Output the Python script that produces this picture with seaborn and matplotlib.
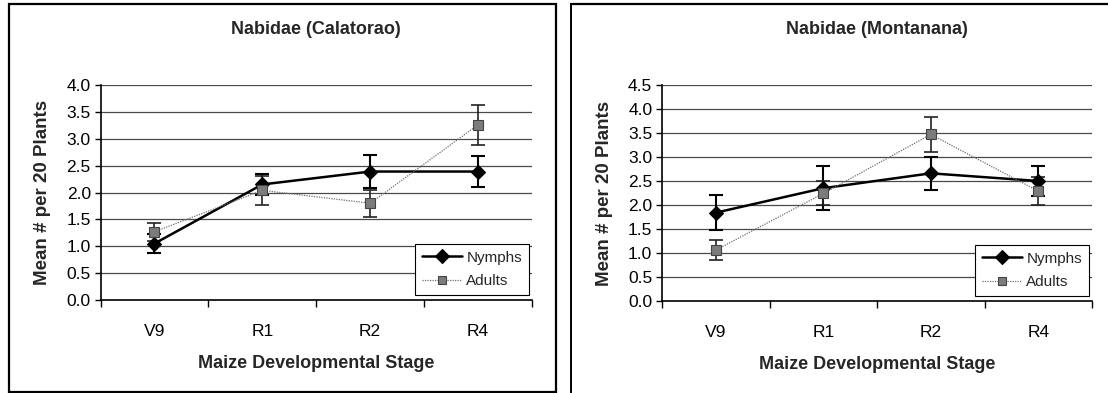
import matplotlib
matplotlib.use("Agg")
import matplotlib.pyplot as plt
from matplotlib.lines import Line2D
from matplotlib.patches import Rectangle
import seaborn as sns
import pandas as pd

stages = ["V9", "R1", "R2", "R4"]
series_names = ["Nymphs", "Adults"]

cal_nymphs = [1.05, 2.15, 2.39, 2.39]
cal_nymphs_err = [0.18, 0.20, 0.30, 0.28]
cal_adults = [1.27, 2.04, 1.80, 3.26]
cal_adults_err = [0.17, 0.27, 0.25, 0.37]

mon_nymphs = [1.84, 2.35, 2.66, 2.50]
mon_nymphs_err = [0.37, 0.46, 0.34, 0.31]
mon_adults = [1.06, 2.24, 3.47, 2.29]
mon_adults_err = [0.21, 0.25, 0.37, 0.30]

titles = ["Nabidae (Calatorao)", "Nabidae (Montanana)"]
xlabel = "Maize Developmental Stage"
ylabel = "Mean # per 20 Plants"
ymaxes = [4.0, 4.5]

sns.set_theme(style="white")
plt.rcParams["font.family"] = ["Liberation Sans", "DejaVu Sans"]

fig = plt.figure(figsize=(11.08, 3.93), dpi=100)
axes = [fig.add_axes([100.5 / 1108, 1 - 300 / 393, 431.5 / 1108, 215 / 393]),
        fig.add_axes([662 / 1108, 1 - 301 / 393, 430 / 1108, 216 / 393])]

panels = [
    (cal_nymphs, cal_nymphs_err, cal_adults, cal_adults_err),
    (mon_nymphs, mon_nymphs_err, mon_adults, mon_adults_err),
]

styles = {
    "Nymphs": dict(color="black", lw=1.8, ls="-", marker="D", ms=7, mfc="black", mec="black", ecol="black", elw=1.5),
    "Adults": dict(color="#6e6e6e", lw=0.9, ls=(0, (1, 1)), marker="s", ms=6.5, mfc="#7c7c7c", mec="#444444", ecol="#222222", elw=1.2),
}

for ax, (n, ne, a, ae), title, ymax in zip(axes, panels, titles, ymaxes):
    df = pd.DataFrame({
        "stage": stages * 2,
        "pos": list(range(len(stages))) * 2,
        "value": n + a,
        "err": ne + ae,
        "series": [series_names[0]] * len(stages) + [series_names[1]] * len(stages),
    })
    for y in [v * 0.5 for v in range(1, int(ymax / 0.5) + 1)]:
        ax.axhline(y, color="#4a4a4a", lw=0.9, zorder=0)
    handles = []
    for name in series_names:
        st = styles[name]
        sub = df[df["series"] == name]
        ax.errorbar(sub["pos"], sub["value"], yerr=sub["err"], fmt="none",
                    ecolor=st["ecol"], elinewidth=st["elw"], capsize=5, capthick=st["elw"], zorder=3)
        sns.lineplot(data=sub, x="pos", y="value", ax=ax, color=st["color"], lw=st["lw"],
                     linestyle=st["ls"], marker=st["marker"], markersize=st["ms"],
                     markerfacecolor=st["mfc"], markeredgecolor=st["mec"], markeredgewidth=0.8,
                     errorbar=None, legend=False, zorder=4)
        handles.append(Line2D([], [], color=st["color"], lw=st["lw"], ls=st["ls"], marker=st["marker"],
                              ms=st["ms"] * 0.95, mfc=st["mfc"], mec=st["mec"], mew=0.8))
    ax.set_xlim(-0.5, len(stages) - 0.5)
    ax.set_ylim(0, ymax)
    ax.set_xticks(range(len(stages)))
    ax.set_xticklabels(stages)
    ax.set_xticks([i - 0.5 for i in range(len(stages) + 1)], minor=True)
    ax.tick_params(axis="x", which="major", length=0, pad=17, labelsize=12.5, labelcolor="black")
    ax.tick_params(axis="x", which="minor", length=5, width=1, color="black", direction="out", bottom=True)
    ax.set_yticks([v * 0.5 for v in range(int(ymax / 0.5) + 1)])
    ax.set_yticklabels([f"{v * 0.5:.1f}" for v in range(int(ymax / 0.5) + 1)])
    ax.tick_params(axis="y", length=4, width=1, color="black", direction="out", left=True, pad=3,
                   labelsize=12.5, labelcolor="black")
    for s in ["top", "right"]:
        ax.spines[s].set_visible(False)
    for s in ["left", "bottom"]:
        ax.spines[s].set_color("black")
        ax.spines[s].set_linewidth(1.2)
    ax.set_xlabel(xlabel, fontsize=13, fontweight="bold", labelpad=12)
    ax.set_ylabel(ylabel, fontsize=13.5, fontweight="bold", labelpad=11)
    ax.set_title(title, fontsize=13, fontweight="bold", pad=37)
    ax.set_facecolor("white")
    leg = ax.legend(handles, series_names, loc="lower right", bbox_to_anchor=(1.0, 0.01),
                    fontsize=11, frameon=True, fancybox=False, framealpha=1, edgecolor="black",
                    handlelength=2.6, borderpad=0.45, labelspacing=0.6, handletextpad=0.3, borderaxespad=0.2)
    leg.get_frame().set_linewidth(0.8)

# panel borders
fig.add_artist(Rectangle((9 / 1108, 1 / 393), 547 / 1108, 388 / 393, transform=fig.transFigure,
                         fill=False, edgecolor="black", lw=1.6))
fig.add_artist(Line2D([571 / 1108, 571 / 1108], [0, 1 - 4 / 393], transform=fig.transFigure, color="black", lw=1.4))
fig.add_artist(Line2D([571 / 1108, 1.0], [1 - 4 / 393, 1 - 4 / 393], transform=fig.transFigure, color="black", lw=1.6))

fig.savefig("out.png", dpi=100, facecolor="white")
